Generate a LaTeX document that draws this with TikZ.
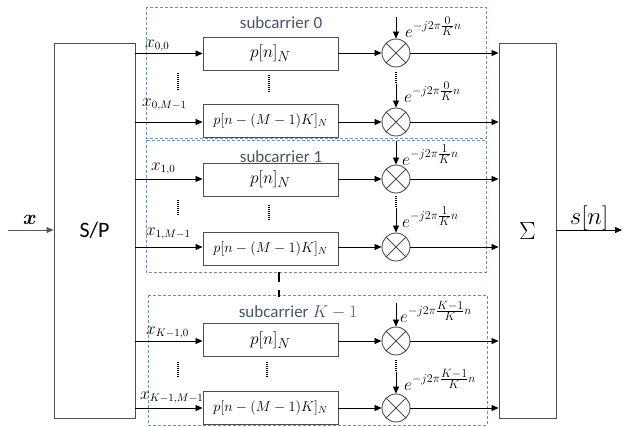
\documentclass[tikz,border=0pt]{standalone}
\usepackage{amsmath}
\usepackage{fontspec}
\setmainfont{Carlito}
\usetikzlibrary{arrows.meta,calc}
\definecolor{dashc}{HTML}{6E90B8}
\definecolor{titc}{HTML}{44546A}
\definecolor{bordc}{HTML}{4D4D4D}
\newcommand{\sfr}[2]{\frac{\scriptstyle #1}{\scriptstyle #2}}
\tikzset{
  arr/.style={-{Triangle[length=7pt,width=6pt]},line width=0.8pt,black},
  bigbox/.style={draw=bordc,line width=0.9pt,minimum width=81pt,minimum height=375pt,inner sep=0pt},
  pbox/.style={draw=bordc,line width=0.9pt,minimum width=135pt,minimum height=33pt,inner sep=0pt,font=\fontsize{19}{19}\selectfont},
  lbox/.style={pbox,font=\fontsize{14}{14}\selectfont},
  mult/.style={circle,draw=bordc,line width=0.9pt,minimum size=28pt,inner sep=0pt,
    path picture={\draw[line width=0.8pt,bordc] ([shift={(45:14pt)}]path picture bounding box.center) -- ([shift={(225:14pt)}]path picture bounding box.center)
      ([shift={(135:14pt)}]path picture bounding box.center) -- ([shift={(315:14pt)}]path picture bounding box.center);}},
  dbox/.style={draw=dashc,line width=0.8pt,dash pattern=on 3pt off 2pt},
  titl/.style={anchor=base,text=titc,font=\fontsize{17}{17}\selectfont,inner sep=0pt},
  dotl/.style={line width=1.3pt,dash pattern=on 1pt off 1pt},
  xlab/.style={anchor=base west,inner sep=0pt,font=\fontsize{16}{16}\selectfont},
  elab/.style={anchor=base west,inner sep=0pt,font=\fontsize{18}{18}\selectfont},
}
\begin{document}
\begin{tikzpicture}[x=1pt,y=-1pt]
\useasboundingbox (0,0) rectangle (623,426);

% big boxes
\node[bigbox,font=\fontsize{22}{22}\selectfont] (SP) at (94.5,230.5) {S/P};
\node[bigbox,minimum width=57pt,font=\fontsize{30}{30}\selectfont] (SG) at (527.5,230.5) {$\Sigma$};

\coordinate (IN) at (8,230);
\coordinate (OUT) at (622,230);
\draw[arr,draw=gray!70!black] (IN) -- (IN -| SP.west);
\node[anchor=base,inner sep=0pt,font=\fontsize{22}{22}\selectfont] (XL) at (30,224) {$\boldsymbol{x}$};
\draw[arr] (SG.east |- OUT) -- (OUT);
\node[anchor=base,inner sep=0pt,font=\fontsize{24}{24}\selectfont] (SL) at (589,224) {$s[n]$};

% dashed subcarrier boxes
\draw[dbox] (146,7) rectangle (486,138);
\draw[dbox] (146,140) rectangle (486,272);
\draw[dbox] (148,295) rectangle (487,425);
\node[titl] (T0) at (281,28) {subcarrier 0};
\node[titl] (T1) at (281,162) {subcarrier 1};
\node[titl] (TK) at (298,317) {subcarrier $K-1$};
\coordinate (S1) at (279,272);
\coordinate (S2) at (279,297);
\draw[line width=2.6pt,dash pattern=on 10pt off 8pt] (S1) -- (S2);

% ---------- subcarrier 0
\node[pbox] (P00) at (270.5,53.5) {$p[n]_N$};
\node[lbox] (P01) at (270.5,121) {$p[n-(M-1)K]_N$};
\node[mult] (M00) at (396,53) {};
\node[mult] (M01) at (396,122) {};
\draw[arr] (SP.east |- P00.west) -- (P00.west);
\draw[arr] (SP.east |- M01.west) -- (P01.west |- M01.west);
\draw[arr] (P00.east |- M00.west) -- (M00.west);
\draw[arr] (P01.east |- M01.west) -- (M01.west);
\draw[arr] (M00.east) -- (SG.west |- M00.east);
\draw[arr] (M01.east) -- (SG.west |- M01.east);
\coordinate (E00) at (396,17);
\draw[arr] (E00) -- (M00.north);
\coordinate (D0a) at (396,72); \coordinate (D0b) at (396,84);
\draw[dotl] (D0a) -- (D0b);
\draw[arr] (D0b) -- (M01.north);
\node[elab] (EL00) at (405,37) {$e^{-j2\pi\sfr{0}{K}n}$};
\node[elab] (EL01) at (404,102) {$e^{-j2\pi\sfr{0}{K}n}$};
\node[xlab] (X00) at (145,47) {$x_{0,0}$};
\node[xlab] (X01) at (142,106) {$x_{0,M-1}$};
\coordinate (V0a) at (178,73); \coordinate (V0b) at (178,90);
\coordinate (W0a) at (269,75); \coordinate (W0b) at (269,92);
\draw[dotl] (V0a) -- (V0b);
\draw[dotl] (W0a) -- (W0b);

% ---------- subcarrier 1
\node[pbox] (P10) at (270.5,179.5) {$p[n]_N$};
\node[lbox] (P11) at (270.5,248.5) {$p[n-(M-1)K]_N$};
\node[mult] (M10) at (396,179) {};
\node[mult] (M11) at (396,247) {};
\draw[arr] (SP.east |- M10.west) -- (P10.west |- M10.west);
\draw[arr] (SP.east |- M11.west) -- (P11.west |- M11.west);
\draw[arr] (P10.east |- M10.west) -- (M10.west);
\draw[arr] (P11.east |- M11.west) -- (M11.west);
\draw[arr] (M10.east) -- (SG.west |- M10.east);
\draw[arr] (M11.east) -- (SG.west |- M11.east);
\coordinate (E10) at (396,141);
\draw[arr] (E10) -- (M10.north);
\coordinate (D1a) at (396,196); \coordinate (D1b) at (396,208);
\draw[dotl] (D1a) -- (D1b);
\draw[arr] (D1b) -- (M11.north);
\node[elab] (EL10) at (402,165) {$e^{-j2\pi\sfr{1}{K}n}$};
\node[elab] (EL11) at (402,227) {$e^{-j2\pi\sfr{1}{K}n}$};
\node[xlab] (X10) at (151,170) {$x_{1,0}$};
\node[xlab] (X11) at (146,235) {$x_{1,M-1}$};
\coordinate (V1a) at (178,200); \coordinate (V1b) at (178,215);
\coordinate (W1a) at (269,205); \coordinate (W1b) at (269,220);
\draw[dotl] (V1a) -- (V1b);
\draw[dotl] (W1a) -- (W1b);

% ---------- subcarrier K-1
\node[pbox] (PK0) at (270.5,340) {$p[n]_N$};
\node[lbox] (PK1) at (270.5,407.5) {$p[n-(M-1)K]_N$};
\node[mult] (MK0) at (396,341) {};
\node[mult] (MK1) at (396,408) {};
\draw[arr] (SP.east |- MK0.west) -- (PK0.west |- MK0.west);
\draw[arr] (SP.east |- MK1.west) -- (PK1.west |- MK1.west);
\draw[arr] (PK0.east |- MK0.west) -- (MK0.west);
\draw[arr] (PK1.east |- MK1.west) -- (MK1.west);
\draw[arr] (MK0.east) -- (SG.west |- MK0.east);
\draw[arr] (MK1.east) -- (SG.west |- MK1.east);
\coordinate (EK0) at (396,303);
\draw[arr] (EK0) -- (MK0.north);
\coordinate (DKa) at (396,360); \coordinate (DKb) at (396,372);
\draw[dotl] (DKa) -- (DKb);
\draw[arr] (DKb) -- (MK1.north);
\node[elab] (ELK0) at (400,322) {$e^{-j2\pi\sfr{K-1}{K}n}$};
\node[elab] (ELK1) at (404,390) {$e^{-j2\pi\sfr{K-1}{K}n}$};
\node[xlab] (XK0) at (146,334) {$x_{K-1,0}$};
\node[xlab] (XK1) at (140,399) {$x_{K-1,M-1}$};
\coordinate (VKa) at (178,362); \coordinate (VKb) at (178,377);
\coordinate (WKa) at (267,362); \coordinate (WKb) at (267,377);
\draw[dotl] (VKa) -- (VKb);
\draw[dotl] (WKa) -- (WKb);
\end{tikzpicture}
\end{document}
